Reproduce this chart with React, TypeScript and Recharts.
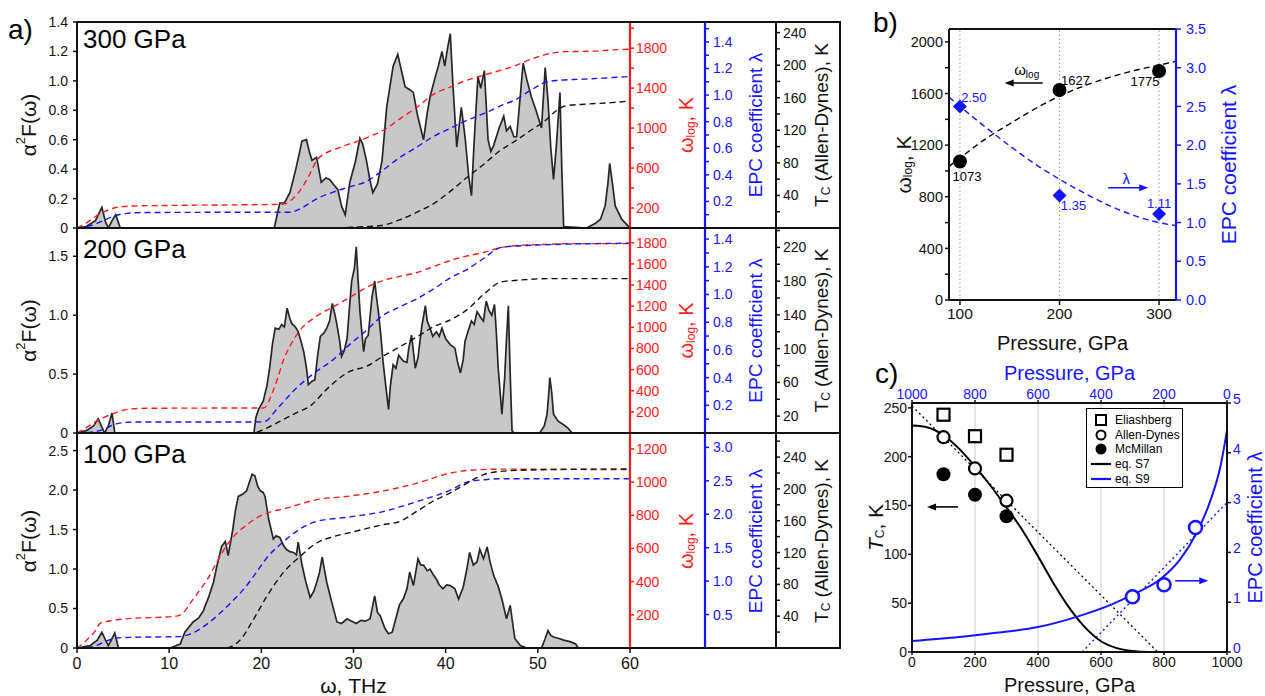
import React from 'react';
import { ComposedChart, Area, Line, Scatter, XAxis, YAxis, ReferenceLine, Legend } from 'recharts';

const FONT = '"Liberation Sans", Arial, Helvetica, sans-serif';
const RED = '#ff1a1a';
const BLUE = '#1414ff';
const INK = '#111111';

type P = [number, number][];

// ---------------- Panel a: alpha^2F(omega) spectra, omega in THz ----------------
const spectrum300: P = [[0,0],[1.0,0.01],[2.0,0.05],[2.7,0.14],[3.1,0.04],[3.4,0],[3.8,0.05],[4.2,0.09],[4.7,0],[21.4,0],[22.0,0.17],[22.5,0.17],[23.1,0.24],[23.7,0.39],[24.1,0.5],[24.4,0.59],[24.9,0.6],[25.2,0.52],[25.5,0.46],[26.0,0.48],[26.5,0.31],[27.0,0.34],[27.4,0.33],[27.9,0.29],[28.3,0.26],[28.7,0.15],[29.1,0.09],[29.6,0.31],[30.2,0.45],[30.7,0.61],[31.0,0.57],[31.4,0.46],[31.8,0.32],[32.1,0.24],[32.6,0.3],[33.1,0.46],[33.6,0.82],[34.3,1.1],[34.8,1.18],[35.2,1.07],[35.6,0.96],[36.1,0.94],[36.5,0.92],[36.9,0.78],[37.2,0.7],[37.6,0.6],[38.0,0.78],[38.3,0.89],[38.8,1.01],[39.2,1.1],[39.6,1.2],[39.9,1.1],[40.2,1.22],[40.5,1.32],[40.8,0.96],[41.2,0.55],[41.7,0.82],[42.1,0.62],[42.5,0.35],[42.8,0.22],[43.1,0.6],[43.5,1.03],[43.8,0.95],[44.2,1.07],[44.6,0.6],[44.9,0.52],[45.2,0.56],[45.8,0.68],[46.3,0.76],[46.6,0.66],[47.0,0.69],[47.4,0.62],[47.7,0.62],[48.1,0.9],[48.4,1.12],[48.8,1.01],[49.3,0.89],[49.8,0.8],[50.4,0.68],[50.8,1.09],[51.1,0.87],[51.4,0.55],[51.7,0.33],[52.0,0.55],[52.4,0.92],[52.6,0.4],[52.8,0.01],[55.3,0],[56.2,0.03],[56.8,0.06],[57.3,0.15],[57.6,0.3],[57.8,0.44],[58.1,0.3],[58.4,0.15],[59.1,0.06],[59.7,0.02],[60,0]];
const omegaLog300: P = [[0,0],[1,50],[2,115],[3,165],[4,200],[5,214],[6,220],[10,226],[15,230],[22.3,238],[23.5,300],[24.4,402],[25.2,530],[26.0,674],[27.0,750],[28.2,795],[29.5,840],[30.7,875],[32.0,925],[33.2,976],[35.0,1090],[36.9,1210],[38.7,1340],[40.5,1411],[42.0,1470],[44.1,1529],[46.0,1580],[47.7,1630],[49.0,1680],[50.6,1730],[51.8,1755],[53.0,1765],[56.0,1770],[58.0,1782],[60,1790]];
const lambda300: P = [[0,0],[1,0.01],[2,0.03],[3,0.06],[4,0.09],[5.4,0.11],[7,0.116],[15,0.118],[23.1,0.118],[24.5,0.155],[26.0,0.22],[27.8,0.27],[29.6,0.31],[31.4,0.35],[33.1,0.43],[35.0,0.53],[36.9,0.61],[38.7,0.69],[40.5,0.75],[42.3,0.81],[44.1,0.86],[46.0,0.92],[47.7,0.97],[49.3,1.04],[50.6,1.09],[52.0,1.11],[55,1.12],[60,1.14]];
const tc300: P = [[0,0],[27,0],[30,1],[33,3],[35,10],[37,20],[38.7,30],[40.5,45],[42.3,62],[44.1,78],[45.9,95],[47.7,108],[49.5,122],[50.6,130],[52,144],[53,150],[55,152],[58,154],[60,156]];

const spectrum200: P = [[0,0],[1.0,0.02],[1.8,0.06],[2.3,0.12],[2.7,0.05],[3.0,0],[3.4,0.06],[3.8,0.17],[4.1,0],[19.2,0],[19.4,0.13],[19.7,0.2],[20.2,0.27],[20.6,0.4],[20.9,0.55],[21.2,0.75],[21.5,0.89],[21.9,0.88],[22.2,0.92],[22.5,0.9],[22.8,1.06],[23.1,0.97],[23.3,0.93],[23.7,0.9],[24.0,0.86],[24.3,0.78],[24.6,0.69],[24.9,0.55],[25.1,0.41],[25.5,0.44],[25.8,0.45],[26.1,0.65],[26.4,0.82],[26.8,0.85],[27.1,0.89],[27.4,0.95],[27.7,1.1],[28.0,1.0],[28.2,0.92],[28.5,0.78],[28.7,0.65],[29.0,0.7],[29.3,0.8],[29.6,1.1],[29.8,1.29],[30.1,1.4],[30.3,1.58],[30.5,1.3],[30.7,1.03],[31.1,0.69],[31.3,0.8],[31.6,0.83],[32.0,1.15],[32.3,1.29],[32.5,1.15],[32.7,1.03],[33.0,0.8],[33.2,0.61],[33.5,0.4],[33.8,0.2],[34.0,0.4],[34.3,0.58],[34.6,0.55],[34.9,0.66],[35.4,0.61],[35.8,0.6],[36.0,0.72],[36.3,0.83],[36.7,0.55],[37.0,0.64],[37.4,0.9],[37.8,1.08],[38.0,0.95],[38.3,0.89],[38.6,0.82],[39.0,0.86],[39.3,0.82],[39.6,0.89],[40.0,0.8],[40.5,0.75],[41.0,0.72],[41.3,0.6],[41.6,0.51],[41.9,0.62],[42.1,0.78],[42.5,0.88],[42.8,0.95],[43.1,0.92],[43.4,1.03],[43.8,0.98],[44.1,0.95],[44.4,1.12],[44.7,1.04],[45.0,1.0],[45.3,1.09],[45.5,0.85],[45.7,0.55],[46.1,0.16],[46.4,0.47],[46.6,0.8],[46.8,1.08],[47.0,0.5],[47.2,0.02],[47.4,0],[50.2,0],[50.7,0.06],[51.0,0.16],[51.2,0.35],[51.3,0.47],[51.5,0.35],[51.7,0.16],[52.2,0.1],[52.8,0.07],[53.3,0.04],[53.7,0],[60,0]];
const omegaLog200: P = [[0,0],[1,50],[2,105],[3,150],[4,185],[5,215],[5.7,226],[7,233],[10,235],[15,236],[20.2,237],[20.6,260],[21.0,340],[21.7,500],[22.4,690],[23.1,820],[24.0,950],[25.8,1094],[27.7,1189],[29.6,1283],[31.4,1377],[33.2,1443],[35.0,1482],[36.9,1519],[38.7,1575],[40.5,1632],[42.3,1675],[44.1,1708],[46.0,1755],[47.7,1774],[51.3,1786],[53.5,1792],[60,1792]];
const lambda200: P = [[0,0],[1,0.003],[2,0.01],[3,0.03],[4,0.06],[5,0.075],[6,0.079],[20,0.08],[20.6,0.09],[21.4,0.15],[22.2,0.21],[23.9,0.33],[25.7,0.43],[27.8,0.53],[29.6,0.64],[31.4,0.74],[33.2,0.85],[35.0,0.91],[36.9,0.97],[38.7,1.04],[40.5,1.12],[42.3,1.18],[44.1,1.26],[46.0,1.34],[47.7,1.35],[51.3,1.36],[60,1.37]];
const tc200: P = [[0,0],[19,0],[20,3],[21,8],[22.4,16],[24,25],[25.3,32],[27.1,52],[29.6,73],[31.4,79],[33.2,91],[35,102],[36.9,114],[38.7,126],[40.5,134],[42.3,146],[44.1,164],[46,179],[47.7,181],[51.3,183],[60,183]];

const spectrum100: P = [[0,0],[1.4,0.03],[2.2,0.1],[2.7,0.2],[3.1,0.1],[3.4,0.03],[3.8,0.12],[4.1,0.19],[4.5,0],[10.1,0],[11.2,0.05],[11.7,0.2],[12.6,0.33],[13.2,0.38],[13.7,0.47],[14.3,0.65],[14.8,0.83],[15.2,1.05],[15.7,1.29],[16.1,1.35],[16.4,1.17],[16.9,1.5],[17.2,1.75],[17.5,1.92],[18.0,1.95],[18.4,1.99],[18.7,2.1],[19.0,2.2],[19.3,2.18],[19.6,2.05],[19.9,1.99],[20.2,1.97],[20.4,1.92],[20.8,1.63],[21.3,1.38],[21.6,1.42],[22.0,1.4],[22.4,1.3],[22.7,1.25],[23.1,1.22],[23.5,1.21],[23.8,1.18],[24.0,1.34],[24.4,1.06],[24.8,0.85],[25.3,0.64],[25.7,0.72],[26.0,0.83],[26.3,0.95],[26.6,1.15],[27.1,0.83],[27.6,0.6],[28.2,0.33],[28.7,0.31],[29.3,0.37],[29.8,0.34],[30.3,0.31],[30.8,0.35],[31.3,0.34],[31.8,0.37],[32.3,0.66],[32.6,0.45],[32.9,0.41],[33.4,0.25],[33.8,0.18],[34.2,0.2],[34.7,0.42],[35.0,0.55],[35.4,0.62],[35.8,0.75],[36.1,0.96],[36.5,0.79],[37.0,1.13],[37.3,1.05],[37.6,1.05],[38.0,0.98],[38.3,1.0],[38.7,0.92],[39.0,0.87],[39.3,0.8],[39.7,0.75],[40.1,0.8],[40.5,0.79],[41.0,0.75],[41.4,0.62],[41.9,0.77],[42.3,1.0],[42.6,1.21],[43.0,1.05],[43.4,1.09],[43.7,1.25],[44.1,1.13],[44.5,1.28],[44.8,1.1],[45.2,0.92],[45.7,0.78],[46.1,0.62],[46.6,0.37],[47.0,0.54],[47.5,0.12],[48.1,0.03],[48.8,0],[50.4,0],[50.8,0.12],[51.1,0.22],[51.4,0.16],[51.7,0.14],[52.3,0.12],[52.8,0.1],[53.5,0.08],[54.1,0.05],[54.4,0],[60,0]];
const omegaLog100: P = [[0,0],[1,45],[2,105],[2.5,149],[3.5,163],[4.3,170],[6,179],[8,183],[10.8,192],[11.5,210],[12.3,271],[13.2,340],[14.1,410],[15.2,520],[16.2,615],[17.3,690],[18.4,741],[19.5,785],[20.6,813],[22.7,843],[25.9,893],[29.6,916],[33.2,946],[36.9,994],[40.5,1054],[42.3,1070],[45.9,1078],[60,1075]];
const lambda100: P = [[0,0],[1,0.01],[2,0.03],[2.5,0.06],[3.5,0.12],[4.3,0.15],[6,0.16],[11,0.17],[12.5,0.22],[14.5,0.4],[16.5,0.65],[18.5,0.95],[19.3,1.1],[20.6,1.35],[22.4,1.59],[24.2,1.78],[25.9,1.89],[29.6,1.96],[33.2,2.04],[36.9,2.19],[40.5,2.36],[42.3,2.48],[44.5,2.52],[45.9,2.53],[60,2.53]];
const tc100: P = [[0,0],[16,0],[17.7,10],[19.1,35],[20.6,65],[22.4,95],[24.2,115],[26,132],[27.8,140],[29.6,145],[33.2,155],[35,159],[36.9,172],[38.7,185],[40.5,195],[42.3,207],[44.1,218],[45.9,222],[50,224],[60,225]];

const thzTicks = [0, 10, 20, 30, 40, 50, 60];
const pressureLabels = ['300 GPa', '200 GPa', '100 GPa'];

const a2fTicks300 = [0, 0.2, 0.4, 0.6, 0.8, 1.0, 1.2, 1.4];
const a2fTicks200 = [0, 0.5, 1.0, 1.5];
const a2fTicks100 = [0, 0.5, 1.0, 1.5, 2.0, 2.5];
const wTicks300 = [200, 400, 600, 800, 1000, 1200, 1400, 1600, 1800, 2000];
const wLabels300 = [200, 600, 1000, 1400, 1800];
const wTicks200 = [200, 400, 600, 800, 1000, 1200, 1400, 1600, 1800];
const wTicks100 = [200, 400, 600, 800, 1000, 1200];
const lTicks300 = [0.1, 0.2, 0.3, 0.4, 0.5, 0.6, 0.7, 0.8, 0.9, 1.0, 1.1, 1.2, 1.3, 1.4, 1.5];
const lLabels300 = [0.2, 0.4, 0.6, 0.8, 1.0, 1.2, 1.4];
const lTicks200 = [0.1, 0.2, 0.3, 0.4, 0.5, 0.6, 0.7, 0.8, 0.9, 1.0, 1.1, 1.2, 1.3, 1.4];
const lTicks100 = [0.5, 1.0, 1.5, 2.0, 2.5, 3.0];
const tTicks300 = [20, 40, 60, 80, 100, 120, 140, 160, 180, 200, 220, 240];
const tLabels300 = [40, 80, 120, 160, 200, 240];
const tTicks200 = [20, 40, 60, 80, 100, 120, 140, 160, 180, 200, 220, 240];
const tLabels200 = [20, 60, 100, 140, 180, 220];
const tTicks100 = [20, 40, 60, 80, 100, 120, 140, 160, 180, 200, 220, 240, 260];
const tLabels100 = [40, 80, 120, 160, 200, 240];

// ---------------- Panel b ----------------
const pressureB = [100, 200, 300];
const omegaLogB = [1073, 1627, 1775];
const lambdaB = [2.5, 1.35, 1.11];
const omegaLogFit: P = [[89,1035],[100,1100],[125,1245],[150,1365],[175,1480],[200,1580],[225,1660],[250,1725],[275,1778],[300,1820],[317,1850]];
const lambdaFit: P = [[89,2.62],[100,2.5],[125,2.24],[150,1.99],[175,1.76],[200,1.56],[225,1.38],[250,1.22],[275,1.09],[300,1.0],[317,0.96]];
const bLeftTicks = [0, 200, 400, 600, 800, 1000, 1200, 1400, 1600, 1800, 2000];
const bLeftLabels = [0, 400, 800, 1200, 1600, 2000];
const bRightTicks = [0, 0.5, 1.0, 1.5, 2.0, 2.5, 3.0, 3.5];
const bXTicks = [100, 200, 300];

// ---------------- Panel c ----------------
const pressureC = [100, 200, 300];
const tcEliashberg = [243, 221, 202];
const tcAllenDynes = [220, 188, 155];
const tcMcMillan = [182, 161, 139];
const lambdaC = [2.5, 1.35, 1.11];
const eqS7: P = [[0,232],[50,230],[100,222],[150,208],[200,190],[250,170],[300,148],[350,125],[400,98],[450,70],[500,45],[550,25],[600,11],[650,4],[700,1],[750,0],[1000,0]];
const tcLinear: P = [[0,252],[780,0]];
const eqS9: P = [[1000,0.22],[850,0.3],[740,0.38],[600,0.5],[480,0.7],[360,0.97],[300,1.15],[210,1.47],[150,1.85],[100,2.35],[55,3.0],[20,3.75],[0,4.45]];
const lambdaLinear: P = [[460,0],[0,3.0]];
const cPressureTicks = [0, 200, 400, 600, 800, 1000];
const cLeftTicks = [0, 50, 100, 150, 200, 250];
const cRightTicks = [0, 1, 2, 3, 4, 5];
const cGrid = [200, 400, 600, 800];
const legendNames = ['Eliashberg', 'Allen-Dynes', 'McMillan', 'eq. S7', 'eq. S9'];

// annotation anchors (data coordinates)
const arrowOmegaB = [{ x: 164, y: 1681 }];
const arrowLambdaB = [{ x: 269, y: 1.45 }];
const arrowTcC = [{ x: 97, y: 148.6 }];
const arrowLambdaC = [{ x: 112, y: 1.43 }];

// ---------------- helpers ----------------
const pts = (a: P) => a.map(([x, y]) => ({ x, y }));
const zipPts = (xs: number[], ys: number[]) => xs.map((x, i) => ({ x, y: ys[i] }));
const fmtSet = (labels: number[] | null, fmt: (v: number) => string) => (v: number) =>
  !labels || labels.some((l) => Math.abs(l - v) < 1e-9) ? fmt(v) : '';
const f1 = (v: number) => (v === 0 ? '0' : v.toFixed(1));
const f1z = (v: number) => v.toFixed(1);
const fi = (v: number) => String(v);

function RotTitle(props: any) {
  const { viewBox, off, col, fs, txt } = props;
  if (!viewBox) return null;
  const cx = viewBox.x + off;
  const cy = viewBox.y + viewBox.height / 2;
  return (
    <text x={cx} y={cy} transform={`rotate(-90, ${cx}, ${cy})`} textAnchor="middle" dominantBaseline="central" fill={col} fontSize={fs} fontFamily={FONT}>
      {txt}
    </text>
  );
}
function HTitle(props: any) {
  const { viewBox, off, col, fs, txt } = props;
  if (!viewBox) return null;
  const cx = viewBox.x + viewBox.width / 2;
  const cy = viewBox.y + off;
  return (
    <text x={cx} y={cy} textAnchor="middle" dominantBaseline="central" fill={col} fontSize={fs} fontFamily={FONT}>
      {txt}
    </text>
  );
}

const alphaTitle = (<>α<tspan dy={-8} fontSize={13}>2</tspan><tspan dy={8}>F(ω)</tspan></>);
const wlogTitle = (<>ω<tspan dy={5} fontSize={12}>log</tspan><tspan dy={-5}>, K</tspan></>);
const tcTitle = (<>T<tspan dy={5} fontSize={12}>C</tspan><tspan dy={-5}> (Allen-Dynes), K</tspan></>);

interface PanelCfg {
  top: number; marginTop: number; plotH: number; axisH: number; showX: boolean; label: string; labelTop: number;
  spec: P; wlog: P; lam: P; tc: P;
  aDomain: [number, number]; aTicks: number[];
  wDomain: [number, number]; wTicks: number[]; wLabels: number[] | null;
  lDomain: [number, number]; lTicks: number[]; lLabels: number[] | null;
  tDomain: [number, number]; tTicks: number[]; tLabels: number[] | null;
}

const panels: PanelCfg[] = [
  { top: 0, marginTop: 22, plotH: 206, axisH: 0, showX: false, label: pressureLabels[0], labelTop: 26,
    spec: spectrum300, wlog: omegaLog300, lam: lambda300, tc: tc300,
    aDomain: [0, 1.4], aTicks: a2fTicks300, wDomain: [0, 2062], wTicks: wTicks300, wLabels: wLabels300,
    lDomain: [0, 1.55], lTicks: lTicks300, lLabels: lLabels300, tDomain: [0, 253], tTicks: tTicks300, tLabels: tLabels300 },
  { top: 228, marginTop: 0, plotH: 205, axisH: 0, showX: false, label: pressureLabels[1], labelTop: 236,
    spec: spectrum200, wlog: omegaLog200, lam: lambda200, tc: tc200,
    aDomain: [0, 1.74], aTicks: a2fTicks200, wDomain: [0, 1940], wTicks: wTicks200, wLabels: null,
    lDomain: [0, 1.48], lTicks: lTicks200, lLabels: lLabels300, tDomain: [0, 243], tTicks: tTicks200, tLabels: tLabels200 },
  { top: 433, marginTop: 1, plotH: 214, axisH: 48, showX: true, label: pressureLabels[2], labelTop: 441,
    spec: spectrum100, wlog: omegaLog100, lam: lambda100, tc: tc100,
    aDomain: [0, 2.71], aTicks: a2fTicks100, wDomain: [0, 1290], wTicks: wTicks100, wLabels: null,
    lDomain: [0, 3.2], lTicks: lTicks100, lLabels: null, tDomain: [0, 269], tTicks: tTicks100, tLabels: tLabels100 },
];

// right axes ids are ordered so that red (r1) sits next to the plot, then blue (r2), then black (r3)
function SpectrumPanel({ c }: { c: PanelCfg }) {
  const height = c.marginTop + c.plotH + c.axisH;
  const tickFont = { fontSize: 14, fontFamily: FONT };
  return (
    <div style={{ position: 'absolute', left: 0, top: c.top }}>
      <ComposedChart width={840} height={height} data={pts(c.spec)} margin={{ top: c.marginTop, right: 0, bottom: 0, left: 0 }}>
        <XAxis type="number" dataKey="x" domain={[0, 60]} ticks={thzTicks} interval={0} allowDataOverflow
          hide={!c.showX} height={c.axisH || 1} tickSize={5} tickMargin={5}
          axisLine={{ stroke: INK, strokeWidth: 2 }} tickLine={{ stroke: INK, strokeWidth: 1.5 }}
          tick={{ fontSize: 16, fill: INK, fontFamily: FONT }}
          label={<HTitle off={37} col={INK} fs={21} txt="ω, THz" />} />
        <YAxis yAxisId="a" orientation="left" width={77} type="number" domain={c.aDomain} ticks={c.aTicks} interval={0} allowDataOverflow
          tickSize={4} tickMargin={5} tickFormatter={f1}
          axisLine={{ stroke: INK, strokeWidth: 2 }} tickLine={{ stroke: INK, strokeWidth: 1.5 }}
          tick={{ ...tickFont, fill: INK }}
          label={<RotTitle off={28} col={INK} fs={21} txt={alphaTitle} />} />
        <YAxis yAxisId="r1" orientation="right" width={75} type="number" domain={c.wDomain} ticks={c.wTicks} interval={0} allowDataOverflow
          tickSize={4} tickMargin={2} tickFormatter={fmtSet(c.wLabels, fi)}
          axisLine={{ stroke: RED, strokeWidth: 2.2 }} tickLine={{ stroke: RED, strokeWidth: 1.5 }}
          tick={{ ...tickFont, fill: RED }}
          label={<RotTitle off={56} col={RED} fs={20} txt={wlogTitle} />} />
        <YAxis yAxisId="r2" orientation="right" width={71} type="number" domain={c.lDomain} ticks={c.lTicks} interval={0} allowDataOverflow
          tickSize={4} tickMargin={4} tickFormatter={fmtSet(c.lLabels, f1z)}
          axisLine={{ stroke: BLUE, strokeWidth: 2.2 }} tickLine={{ stroke: BLUE, strokeWidth: 1.5 }}
          tick={{ ...tickFont, fill: BLUE }}
          label={<RotTitle off={50} col={BLUE} fs={19} txt="EPC coefficient λ" />} />
        <YAxis yAxisId="r3" orientation="right" width={64} type="number" domain={c.tDomain} ticks={c.tTicks} interval={0} allowDataOverflow
          tickSize={4} tickMargin={3} tickFormatter={fmtSet(c.tLabels, fi)}
          axisLine={{ stroke: INK, strokeWidth: 2 }} tickLine={{ stroke: INK, strokeWidth: 1.5 }}
          tick={{ ...tickFont, fill: INK }}
          label={<RotTitle off={45} col={INK} fs={19} txt={tcTitle} />} />
        <Area yAxisId="a" dataKey="y" type="linear" fill="#c8c8c8" fillOpacity={1} stroke="#262626" strokeWidth={1.7}
          dot={false} activeDot={false} isAnimationActive={false} />
        <Line yAxisId="r1" data={pts(c.wlog)} dataKey="y" type="monotone" stroke={RED} strokeWidth={1.4} strokeDasharray="6 4" dot={false} activeDot={false} isAnimationActive={false} />
        <Line yAxisId="r2" data={pts(c.lam)} dataKey="y" type="monotone" stroke={BLUE} strokeWidth={1.4} strokeDasharray="6 4" dot={false} activeDot={false} isAnimationActive={false} />
        <Line yAxisId="r3" data={pts(c.tc)} dataKey="y" type="monotone" stroke={INK} strokeWidth={1.4} strokeDasharray="6 4" dot={false} activeDot={false} isAnimationActive={false} />
      </ComposedChart>
      <div style={{ position: 'absolute', left: 83, top: c.labelTop - c.top, fontFamily: FONT, fontSize: 26, lineHeight: 1, color: '#000', whiteSpace: 'nowrap' }}>{c.label}</div>
    </div>
  );
}

// ---------------- shapes ----------------
const bLabelOff: Record<string, [number, number]> = {
  'w100': [7, 15], 'w200': [16, -10], 'w300': [-14, 11],
  'l100': [14, -9], 'l200': [14, 10], 'l300': [0, -11],
};
function WDot(p: any) {
  const o = bLabelOff['w' + p.payload.x] || [0, 0];
  return (
    <g>
      <circle cx={p.cx} cy={p.cy} r={7} fill="#000" />
      <text x={p.cx + o[0]} y={p.cy + o[1]} textAnchor="middle" dominantBaseline="central" fontSize={13} fontFamily={FONT} fill="#000">{String(p.payload.y)}</text>
    </g>
  );
}
function LDiamond(p: any) {
  const o = bLabelOff['l' + p.payload.x] || [0, 0];
  const { cx, cy } = p;
  return (
    <g>
      <polygon points={`${cx},${cy - 7} ${cx + 7},${cy} ${cx},${cy + 7} ${cx - 7},${cy}`} fill={BLUE} />
      <text x={cx + o[0]} y={cy + o[1]} textAnchor="middle" dominantBaseline="central" fontSize={13} fontFamily={FONT} fill={BLUE}>{p.payload.y.toFixed(2)}</text>
    </g>
  );
}
const makeArrow = (dir: 'l' | 'r', col: string, half: number, text?: React.ReactNode, textDy = -8, textDx = 0) => (p: any) => {
  const { cx, cy } = p;
  const x1 = cx - half, x2 = cx + half;
  const tip = dir === 'l' ? x1 : x2;
  const s = dir === 'l' ? 1 : -1;
  return (
    <g>
      <line x1={dir === 'l' ? x1 + 6 : x1} y1={cy} x2={dir === 'l' ? x2 : x2 - 6} y2={cy} stroke={col} strokeWidth={1.6} />
      <polygon points={`${tip},${cy} ${tip + 9 * s},${cy - 3.5} ${tip + 9 * s},${cy + 3.5}`} fill={col} />
      {text ? (
        <text x={cx + textDx} y={cy + textDy} textAnchor="middle" fontSize={15} fontFamily={FONT} fill={col}>{text}</text>
      ) : null}
    </g>
  );
};
const arrowOmegaShape = makeArrow('l', '#000', 19, (<>ω<tspan dy={3} fontSize={10}>log</tspan></>), -8, 3);
const arrowLambdaShape = makeArrow('r', BLUE, 20, 'λ', -4, -2);
const arrowTcShape = makeArrow('l', '#000', 15.5);
const arrowLamCShape = makeArrow('r', BLUE, 16.5);

const SquareOpen = (p: any) => <rect x={p.cx - 6} y={p.cy - 6} width={12} height={12} fill="#fff" stroke="#000" strokeWidth={2.2} />;
const CircleOpen = (p: any) => <circle cx={p.cx} cy={p.cy} r={6} fill="#fff" stroke="#000" strokeWidth={2.2} />;
const CircleFill = (p: any) => <circle cx={p.cx} cy={p.cy} r={7} fill="#000" />;
const CircleOpenBlue = (p: any) => <circle cx={p.cx} cy={p.cy} r={6.5} fill="#fff" stroke={BLUE} strokeWidth={2.5} />;

function legendIcon(i: number) {
  if (i === 0) return <rect x={6} y={1} width={10} height={10} fill="#fff" stroke="#000" strokeWidth={2} />;
  if (i === 1) return <circle cx={11} cy={6} r={4.5} fill="#fff" stroke="#000" strokeWidth={2} />;
  if (i === 2) return <circle cx={11} cy={6} r={5.5} fill="#000" />;
  return <line x1={1} y1={6} x2={21} y2={6} stroke={i === 3 ? '#000' : BLUE} strokeWidth={2.2} />;
}
function CLegend() {
  return (
    <div style={{ border: '1.5px solid #000', background: '#fff', width: 97, height: 80, boxSizing: 'border-box', padding: '4px 0 0 3px', fontFamily: FONT, fontSize: 12, color: '#000', lineHeight: 1 }}>
      {legendNames.map((name, i) => (
        <div key={name} style={{ display: 'flex', alignItems: 'center', height: 14.6 }}>
          <svg width={22} height={12} style={{ display: 'block' }}>{legendIcon(i)}</svg>
          <span style={{ marginLeft: 3 }}>{name}</span>
        </div>
      ))}
    </div>
  );
}

function PanelB() {
  const tickFont = { fontSize: 14.5, fontFamily: FONT };
  return (
    <div style={{ position: 'absolute', left: 870, top: 0 }}>
      <ComposedChart width={381} height={355} margin={{ top: 29, right: 0, bottom: 0, left: 0 }}>
        <XAxis type="number" dataKey="x" domain={[89, 317]} ticks={bXTicks} interval={0} allowDataOverflow height={55}
          tickSize={5} tickMargin={3} axisLine={{ stroke: INK, strokeWidth: 2 }} tickLine={{ stroke: INK, strokeWidth: 1.5 }}
          tick={{ fontSize: 15.5, fill: INK, fontFamily: FONT }}
          label={<HTitle off={43} col={INK} fs={20} txt="Pressure, GPa" />} />
        <YAxis yAxisId="w" dataKey="y" orientation="left" width={79} type="number" domain={[0, 2100]} ticks={bLeftTicks} interval={0} allowDataOverflow
          tickSize={4} tickMargin={2} tickFormatter={fmtSet(bLeftLabels, fi)}
          axisLine={{ stroke: INK, strokeWidth: 2 }} tickLine={{ stroke: INK, strokeWidth: 1.5 }}
          tick={{ ...tickFont, fill: INK }}
          label={<RotTitle off={33} col={INK} fs={21} txt={wlogTitle} />} />
        <YAxis yAxisId="l" dataKey="y" orientation="right" width={75} type="number" domain={[0, 3.5]} ticks={bRightTicks} interval={0} allowDataOverflow
          tickSize={5} tickMargin={5} tickFormatter={f1z}
          axisLine={{ stroke: BLUE, strokeWidth: 2.2 }} tickLine={{ stroke: BLUE, strokeWidth: 1.5 }}
          tick={{ ...tickFont, fill: BLUE }}
          label={<RotTitle off={52} col={BLUE} fs={21} txt="EPC coefficient λ" />} />
        <ReferenceLine yAxisId="w" y={2100} stroke={INK} strokeWidth={2} />
        {bXTicks.map((x) => (
          <ReferenceLine key={x} yAxisId="w" x={x} stroke="#999" strokeWidth={1} strokeDasharray="1.5 2.5" />
        ))}
        <Line yAxisId="w" data={pts(omegaLogFit)} dataKey="y" type="monotone" stroke="#000" strokeWidth={1.4} strokeDasharray="6 4" dot={false} activeDot={false} isAnimationActive={false} />
        <Line yAxisId="l" data={pts(lambdaFit)} dataKey="y" type="monotone" stroke={BLUE} strokeWidth={1.4} strokeDasharray="6 4" dot={false} activeDot={false} isAnimationActive={false} />
        <Scatter yAxisId="w" data={zipPts(pressureB, omegaLogB)} dataKey="y" shape={WDot} isAnimationActive={false} />
        <Scatter yAxisId="l" data={zipPts(pressureB, lambdaB)} dataKey="y" shape={LDiamond} isAnimationActive={false} />
        <Scatter yAxisId="w" data={arrowOmegaB} dataKey="y" shape={arrowOmegaShape} isAnimationActive={false} />
        <Scatter yAxisId="l" data={arrowLambdaB} dataKey="y" shape={arrowLambdaShape} isAnimationActive={false} />
      </ComposedChart>
    </div>
  );
}

function PanelC() {
  const tickFont = { fontSize: 14, fontFamily: FONT };
  return (
    <div style={{ position: 'absolute', left: 860, top: 355 }}>
      <ComposedChart width={417} height={341} margin={{ top: 0, right: 0, bottom: 0, left: 0 }}>
        <XAxis xAxisId="b" type="number" dataKey="x" domain={[0, 1000]} ticks={cPressureTicks} interval={0} allowDataOverflow height={44}
          tickSize={3} tickMargin={2} axisLine={{ stroke: INK, strokeWidth: 2 }} tickLine={{ stroke: INK, strokeWidth: 1.5 }}
          tick={{ ...tickFont, fill: INK }}
          label={<HTitle off={33} col={INK} fs={20} txt="Pressure, GPa" />} />
        <XAxis xAxisId="t" orientation="top" reversed type="number" dataKey="x" domain={[0, 1000]} ticks={cPressureTicks} interval={0} allowDataOverflow height={48}
          tickSize={3} tickMargin={1} axisLine={{ stroke: INK, strokeWidth: 2 }} tickLine={{ stroke: INK, strokeWidth: 1.5 }}
          tick={{ ...tickFont, fill: BLUE }}
          label={<HTitle off={18} col={BLUE} fs={20} txt="Pressure, GPa" />} />
        <YAxis yAxisId="l" dataKey="y" orientation="left" width={52} type="number" domain={[0, 255]} ticks={cLeftTicks} interval={0} allowDataOverflow
          tickSize={4} tickMargin={1} axisLine={{ stroke: INK, strokeWidth: 2 }} tickLine={{ stroke: INK, strokeWidth: 1.5 }}
          tick={{ ...tickFont, fill: INK }}
          label={<RotTitle off={15} col={INK} fs={21} txt={(<><tspan fontStyle="italic">T</tspan><tspan dy={5} fontSize={12}>C</tspan><tspan dy={-5}>, K</tspan></>)} />} />
        <YAxis yAxisId="r" dataKey="y" orientation="right" width={50} type="number" domain={[0, 5]} ticks={cRightTicks} interval={0} allowDataOverflow
          tickSize={4} tickMargin={2} axisLine={{ stroke: INK, strokeWidth: 2 }} tickLine={{ stroke: INK, strokeWidth: 1.5 }}
          tick={{ ...tickFont, fill: BLUE, dy: -4 }}
          label={<RotTitle off={28} col={BLUE} fs={20} txt="EPC coefficient λ" />} />
        {cGrid.map((x) => (
          <ReferenceLine key={x} xAxisId="b" yAxisId="l" x={x} stroke="#d4d4d4" strokeWidth={1.2} />
        ))}
        <Line xAxisId="b" yAxisId="l" data={pts(tcLinear)} dataKey="y" type="linear" stroke="#000" strokeWidth={1.3} strokeDasharray="2 3" dot={false} activeDot={false} isAnimationActive={false} />
        <Line xAxisId="t" yAxisId="r" data={pts(lambdaLinear)} dataKey="y" type="linear" stroke={BLUE} strokeWidth={1.4} strokeDasharray="2 3" dot={false} activeDot={false} isAnimationActive={false} />
        <Line xAxisId="b" yAxisId="l" data={pts(eqS7)} dataKey="y" type="monotone" stroke="#000" strokeWidth={2} dot={false} activeDot={false} isAnimationActive={false} />
        <Line xAxisId="t" yAxisId="r" data={pts(eqS9)} dataKey="y" type="monotone" stroke={BLUE} strokeWidth={2} dot={false} activeDot={false} isAnimationActive={false} />
        <Scatter xAxisId="b" yAxisId="l" data={zipPts(pressureC, tcEliashberg)} dataKey="y" shape={SquareOpen} isAnimationActive={false} />
        <Scatter xAxisId="b" yAxisId="l" data={zipPts(pressureC, tcAllenDynes)} dataKey="y" shape={CircleOpen} isAnimationActive={false} />
        <Scatter xAxisId="b" yAxisId="l" data={zipPts(pressureC, tcMcMillan)} dataKey="y" shape={CircleFill} isAnimationActive={false} />
        <Scatter xAxisId="t" yAxisId="r" data={zipPts(pressureC, lambdaC)} dataKey="y" shape={CircleOpenBlue} isAnimationActive={false} />
        <Scatter xAxisId="b" yAxisId="l" data={arrowTcC} dataKey="y" shape={arrowTcShape} isAnimationActive={false} />
        <Scatter xAxisId="t" yAxisId="r" data={arrowLambdaC} dataKey="y" shape={arrowLamCShape} isAnimationActive={false} />
        <Legend layout="vertical" align="center" verticalAlign="middle" content={<CLegend />}
          wrapperStyle={{ position: 'absolute', left: 226, top: 53, width: 97, height: 80 }} />
      </ComposedChart>
    </div>
  );
}

export default function App() {
  return (
    <div style={{ position: 'absolute', left: 0, top: 0, width: 1265, height: 696, overflow: 'hidden', background: '#fff', fontFamily: FONT }}>
      <style>{'.recharts-surface{overflow:visible}'}</style>
      {panels.map((c) => (
        <SpectrumPanel key={c.label} c={c} />
      ))}
      <div style={{ position: 'absolute', left: 76, top: 21, width: 765, height: 628, border: '2px solid #111', boxSizing: 'border-box', pointerEvents: 'none' }} />
      <div style={{ position: 'absolute', left: 77, top: 227, width: 763, height: 2, background: '#111' }} />
      <div style={{ position: 'absolute', left: 77, top: 432, width: 763, height: 2, background: '#111' }} />
      <div style={{ position: 'absolute', left: 8, top: 16, fontSize: 28, lineHeight: 1, color: '#000' }}>a)</div>
      <PanelB />
      <PanelC />
      <div style={{ position: 'absolute', left: 873, top: 9, fontSize: 28, lineHeight: 1, color: '#000' }}>b)</div>
      <div style={{ position: 'absolute', left: 875, top: 360, fontSize: 28, lineHeight: 1, color: '#000' }}>c)</div>
    </div>
  );
}
